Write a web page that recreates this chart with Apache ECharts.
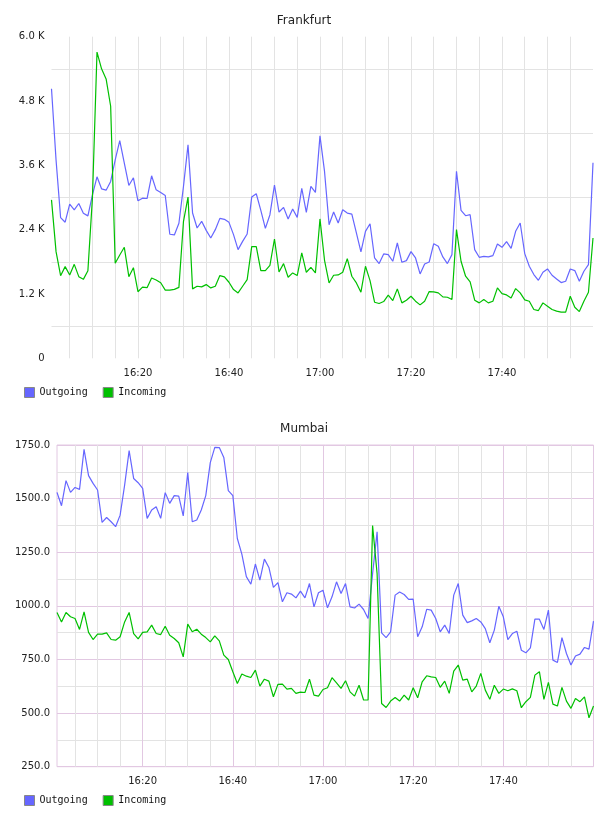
<!DOCTYPE html>
<html>
<head>
<meta charset="utf-8">
<script src="https://cdn.jsdelivr.net/npm/echarts@6/dist/echarts.min.js"></script>
<style>
  html, body { margin: 0; padding: 0; background: #fff; }
  #chart { width: 608px; height: 816px; }
</style>
</head>
<body>
<div id="chart"></div>
<script>
// one sample per minute, 16:01 .. 18:00
const times = []
for (let m = 1; m <= 120; m++) {
  const h = 16 + Math.floor(m / 60)
  const mm = m % 60
  times.push(h + ':' + (mm < 10 ? '0' : '') + mm)
}

const frankfurtOut = [
  5030, 3700, 2626, 2539, 2875, 2770, 2888, 2707, 2657, 3050,
  3386, 3162, 3137, 3299, 3704, 4060, 3642, 3224, 3368, 2938,
  2987, 2981, 3405, 3143, 3093, 3037, 2314, 2302, 2520, 3206,
  3983, 2710, 2431, 2555, 2387, 2244, 2400, 2611, 2592, 2536,
  2307, 2027, 2182, 2319, 3008, 3070, 2760, 2424, 2679, 3232,
  2729, 2816, 2598, 2785, 2629, 3169, 2723, 3207, 3095, 4150,
  3486, 2493, 2729, 2524, 2772, 2710, 2691, 2338, 1984, 2369,
  2511, 1872, 1767, 1947, 1934, 1810, 2151, 1791, 1822, 1990,
  1872, 1574, 1760, 1797, 2139, 2089, 1891, 1767, 1934, 3490,
  2760, 2660, 2679, 2027, 1884, 1903, 1891, 1916, 2133, 2071,
  2176, 2052, 2369, 2524, 1953, 1717, 1562, 1456, 1605, 1667,
  1549, 1481, 1413, 1437, 1667, 1636, 1437, 1624, 1748, 3650
]
const frankfurtIn = [
  2956, 1990, 1541, 1710, 1554, 1753, 1523, 1473, 1635, 3000,
  5712, 5400, 5213, 4702, 1772, 1928, 2071, 1523, 1691, 1242,
  1329, 1317, 1498, 1461, 1410, 1273, 1273, 1286, 1323, 2551,
  3008, 1295, 1344, 1332, 1375, 1313, 1344, 1543, 1518, 1419,
  1282, 1220, 1344, 1468, 2083, 2083, 1636, 1636, 1735, 2226,
  1611, 1766, 1512, 1593, 1543, 1965, 1605, 1698, 1593, 2600,
  1829, 1406, 1549, 1555, 1605, 1860, 1531, 1406, 1233, 1717,
  1450, 1046, 1022, 1059, 1177, 1078, 1295, 1034, 1084, 1158,
  1065, 997, 1065, 1245, 1239, 1220, 1146, 1139, 1096, 2400,
  1810, 1531, 1425, 1084, 1034, 1096, 1034, 1065, 1313, 1208,
  1183, 1127, 1301, 1220, 1090, 1065, 910, 891, 1034, 972,
  910, 879, 860, 860, 1158, 953, 872, 1065, 1233, 2244
]

const mumbaiOut = [
  1529, 1467, 1584, 1529, 1552, 1543, 1730, 1607, 1571, 1540,
  1389, 1412, 1392, 1369, 1423, 1563, 1724, 1594, 1574, 1548,
  1408, 1447, 1462, 1408, 1528, 1478, 1514, 1512, 1419, 1622,
  1392, 1400, 1447, 1514, 1668, 1739, 1738, 1692, 1537, 1514,
  1314, 1241, 1136, 1101, 1195, 1120, 1218, 1179, 1086, 1108,
  1019, 1061, 1055, 1037, 1069, 1037, 1104, 995, 1061, 1073,
  991, 1042, 1112, 1058, 1104, 995, 990, 1008, 983, 941,
  1150, 1345, 874, 852, 879, 1050, 1065, 1053, 1030, 1031,
  856, 902, 984, 980, 941, 879, 910, 871, 1050, 1104,
  957, 922, 930, 941, 925, 894, 828, 887, 998, 949,
  843, 871, 882, 793, 781, 804, 938, 938, 890, 980,
  747, 736, 852, 778, 724, 766, 775, 806, 798, 929
]
const mumbaiIn = [
  969, 925, 969, 949, 941, 890, 972, 876, 843, 868,
  868, 874, 843, 840, 856, 925, 969, 871, 846, 876,
  879, 910, 871, 866, 905, 863, 848, 828, 762, 915,
  879, 891, 868, 852, 832, 860, 837, 770, 750, 693,
  638, 682, 672, 666, 700, 626, 658, 649, 576, 634,
  635, 612, 615, 592, 598, 596, 658, 584, 579, 610,
  618, 665, 641, 615, 651, 599, 579, 630, 561, 561,
  1374, 1150, 545, 526, 556, 573, 556, 584, 561, 618,
  571, 646, 674, 669, 666, 620, 649, 592, 696, 724,
  654, 658, 599, 626, 685, 607, 564, 630, 592, 612,
  604, 613, 604, 525, 553, 573, 677, 693, 564, 643,
  542, 533, 620, 556, 522, 568, 553, 576, 478, 533
]

const seriesNames = ['Outgoing', 'Incoming']
const colors = ['#6666ff', '#00c000']

const minuteOf = (i) => i + 1
const grey = '#e3e3e3'
const pink = '#e2c8e2'

const chart = echarts.init(document.getElementById('chart'), null, { renderer: 'canvas' })

function xAxis(gridIndex, lineColors) {
  return {
    type: 'category',
    gridIndex: gridIndex,
    data: times,
    boundaryGap: false,
    axisLine: { show: false },
    axisTick: { show: false },
    axisLabel: {
      interval: (i) => minuteOf(i) % 20 === 0 && minuteOf(i) < 120,
      margin: 10,
      fontFamily: 'DejaVu Sans',
      fontSize: 10,
      color: '#222'
    },
    splitLine: {
      show: true,
      interval: (i) => minuteOf(i) % 5 === 0 && minuteOf(i) < 120,
      lineStyle: { color: lineColors, width: 1 }
    }
  }
}

function legend(top) {
  return {
    left: 24,
    top: top,
    padding: 0,
    data: seriesNames,
    icon: 'rect',
    itemWidth: 10,
    itemHeight: 10,
    itemGap: 15,
    itemStyle: { borderColor: '#888', borderWidth: 1 },
    textStyle: { fontFamily: 'DejaVu Sans Mono', fontSize: 10, color: '#111' }
  }
}

function line(name, data, idx, color) {
  return {
    name: name,
    type: 'line',
    xAxisIndex: idx,
    yAxisIndex: idx,
    data: data,
    showSymbol: false,
    symbol: 'none',
    lineStyle: { color: color, width: 1.2 },
    itemStyle: { color: color }
  }
}

const titleStyle = { fontFamily: 'DejaVu Sans', fontSize: 12, fontWeight: 'normal', color: '#222' }

chart.setOption({
  animation: false,
  backgroundColor: '#fff',
  title: [
    { text: 'Frankfurt', left: 'center', top: 15, padding: 0, textStyle: titleStyle },
    { text: 'Mumbai', left: 'center', top: 423, padding: 0, textStyle: titleStyle }
  ],
  legend: [legend(387), legend(795)],
  grid: [
    { left: 51.5, right: 15, top: 36.7, height: 321.6 },
    { left: 57, right: 14.5, top: 445, height: 321.7, show: true, borderColor: pink, borderWidth: 1, backgroundColor: 'transparent' }
  ],
  xAxis: [
    xAxis(0, [grey]),
    xAxis(1, [grey, grey, grey, pink])
  ],
  yAxis: [
    {
      type: 'value', gridIndex: 0, min: 0, max: 6000, interval: 600,
      axisLine: { show: false }, axisTick: { show: false },
      axisLabel: {
        margin: 7, fontFamily: 'DejaVu Sans', fontSize: 10, color: '#222',
        formatter: (v) => v % 1200 !== 0 ? '' : (v === 0 ? '0' : (v / 1000).toFixed(1) + ' K')
      },
      splitLine: { lineStyle: { color: ['rgba(0,0,0,0)', grey], width: 1 } }
    },
    {
      type: 'value', gridIndex: 1, min: 250, max: 1750, interval: 125,
      axisLine: { show: false }, axisTick: { show: false },
      axisLabel: {
        margin: 7, fontFamily: 'DejaVu Sans', fontSize: 10, color: '#222',
        formatter: (v) => v % 250 !== 0 ? '' : v.toFixed(1)
      },
      splitLine: { lineStyle: { color: [pink, grey], width: 1 } }
    }
  ],
  series: [
    line('Outgoing', frankfurtOut, 0, colors[0]),
    line('Incoming', frankfurtIn, 0, colors[1]),
    line('Outgoing', mumbaiOut, 1, colors[0]),
    line('Incoming', mumbaiIn, 1, colors[1])
  ]
})
</script>
</body>
</html>
